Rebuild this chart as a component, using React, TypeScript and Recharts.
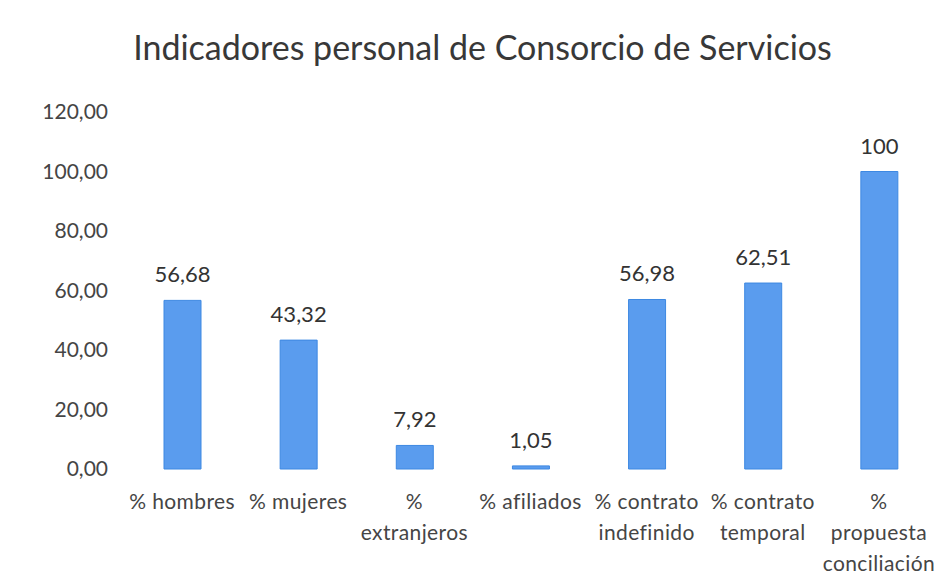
import { Bar, BarChart, LabelList, XAxis, YAxis } from "recharts";

const categories = [
  "% hombres",
  "% mujeres",
  "%\nextranjeros",
  "% afiliados",
  "% contrato\nindefinido",
  "% contrato\ntemporal",
  "%\npropuesta\nconciliación",
];
const values = [56.68, 43.32, 7.92, 1.05, 56.98, 62.51, 100];
const yTicks = [0, 20, 40, 60, 80, 100, 120];

const data = categories.map((name, i) => ({ name, value: values[i] }));

const font = "Lato, 'Open Sans', sans-serif";
const fmt = (v: number) => String(v).replace(".", ",");

function CategoryTick({ x, y, payload }: any) {
  const lines = String(payload.value).split("\n");
  return (
    <text x={x} y={y} textAnchor="middle" fill="#454545" fontSize={21} letterSpacing={0.4} fontFamily={font}>
      {lines.map((l, i) => (
        <tspan key={i} x={x} dy={i === 0 ? 32 : 31}>
          {l}
        </tspan>
      ))}
    </text>
  );
}

export default function App() {
  return (
    <div style={{ position: "relative", width: 937, height: 575, background: "#fff" }}>
      <style>{"body{margin:0}"}</style>
      <div
        style={{
          position: "absolute",
          top: 27,
          left: 28,
          right: 0,
          textAlign: "center",
          fontFamily: font,
          fontSize: 34,
          color: "#383838",
          lineHeight: "40px",
        }}
      >
        Indicadores personal de Consorcio de Servicios
      </div>
      <BarChart width={937} height={575} data={data} margin={{ top: 112, right: 0, left: 0, bottom: 76 }}>
        <YAxis
          domain={[0, 120]}
          ticks={yTicks}
          width={124}
          axisLine={false}
          tickLine={false}
          tickSize={0}
          tickMargin={16}
          tickFormatter={(v: number) => v.toFixed(2).replace(".", ",")}
          tick={{ fill: "#454545", fontSize: 21, fontFamily: font }}
        />
        <XAxis
          dataKey="name"
          axisLine={false}
          tickLine={false}
          interval={0}
          tick={<CategoryTick />}
        />
        <Bar dataKey="value" fill="#5a9cee" stroke="#3d88e2" strokeWidth={1} barSize={37} isAnimationActive={false}>
          <LabelList
            dataKey="value"
            position="top"
            offset={18}
            formatter={(v: number) => fmt(v)}
            style={{ fill: "#333", fontSize: 22, fontFamily: font }}
          />
        </Bar>
      </BarChart>
    </div>
  );
}
